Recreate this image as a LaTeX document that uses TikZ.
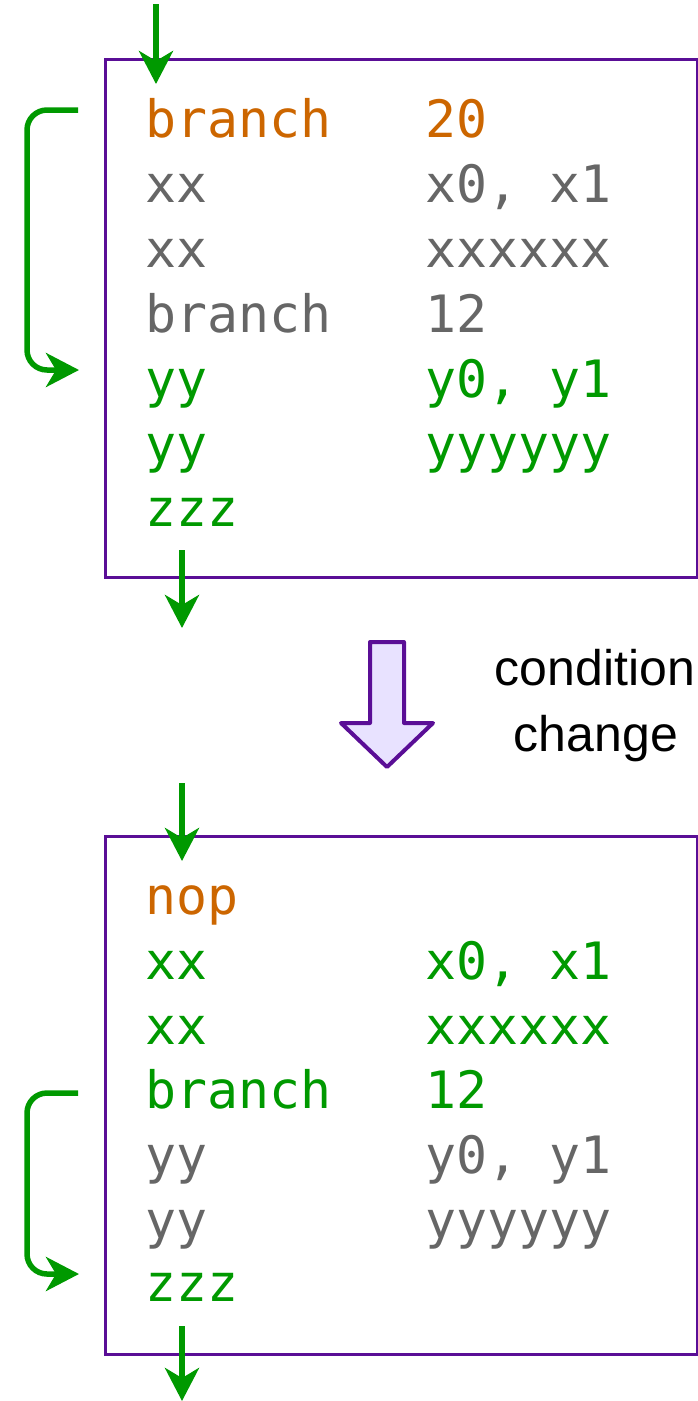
\documentclass[tikz,border=0pt]{standalone}
\usepackage{fontspec}
\newfontfamily\codefont{DejaVu Sans Mono}
\newfontfamily\labelfont{Liberation Sans}
\usetikzlibrary{arrows.meta}
\definecolor{cOrange}{RGB}{204,102,0}
\definecolor{cGray}{RGB}{102,102,102}
\definecolor{cGreen}{RGB}{0,153,0}
\definecolor{cPurple}{RGB}{90,14,150}
\definecolor{cLav}{RGB}{232,226,255}
\tikzset{
  codebox/.style={draw=cPurple, line width=2.6pt, fill=none, inner sep=0pt, anchor=north west, minimum width=592pt, minimum height=518pt},
  code/.style={anchor=base west, inner sep=0pt, font=\codefont\fontsize{51.5}{60}\selectfont},
  flow/.style={draw=cGreen, line width=5.5pt, -{Stealth[length=33pt,width=34pt,inset=10pt]}},
  loop/.style={flow, rounded corners=20pt},
  bigarrow/.style={draw=cPurple, fill=cLav, line width=4pt, line join=round},
  lbl/.style={anchor=base, inner sep=0pt, font=\labelfont\fontsize{50}{60}\selectfont}
}
\begin{document}
\begin{tikzpicture}[x=1pt,y=-1pt]
\useasboundingbox (0,0) rectangle (697,1401);
% ---------- top box ----------
\node[codebox] (boxA) at (104,58) {};
\node[code, text=cOrange] (a1l) at (145,137) {branch};
\node[code, text=cOrange] (a1r) at (425,137) {20};
\node[code, text=cGray] (a2l) at (145,202) {xx};
\node[code, text=cGray] (a2r) at (425,202) {x0, x1};
\node[code, text=cGray] (a3l) at (145,267) {xx};
\node[code, text=cGray] (a3r) at (425,267) {xxxxxx};
\node[code, text=cGray] (a4l) at (145,332) {branch};
\node[code, text=cGray] (a4r) at (425,332) {12};
\node[code, text=cGreen] (a5l) at (145,397) {yy};
\node[code, text=cGreen] (a5r) at (425,397) {y0, y1};
\node[code, text=cGreen] (a6l) at (145,462) {yy};
\node[code, text=cGreen] (a6r) at (425,462) {yyyyyy};
\node[code, text=cGreen] (a7l) at (145,526) {zzz};
\coordinate (aInS) at (156,4);
\coordinate (aInE) at (156,84);
\draw[flow] (aInS) -- (aInE);
\coordinate (aOutS) at (182,550);
\coordinate (aOutE) at (182,628);
\draw[flow] (aOutS) -- (aOutE);
\coordinate (aLoopS) at (78,110);
\coordinate (aLoopE) at (79,370);
\draw[loop] (aLoopS) -- (27,110) -- (27,370) -- (aLoopE);
% ---------- condition change ----------
\draw[bigarrow] (370,642) -- (404,642) -- (404,723) -- (433,723) -- (387,767) -- (341,723) -- (370,723) -- cycle;
\node[lbl] (cond) at (595,685) {condition};
\node[lbl] (chg) at (596,751) {change};
% ---------- bottom box ----------
\node[codebox] (boxB) at (104,835) {};
\node[code, text=cOrange] (b1l) at (145,914) {nop};
\node[code, text=cGreen] (b2l) at (145,979) {xx};
\node[code, text=cGreen] (b2r) at (425,979) {x0, x1};
\node[code, text=cGreen] (b3l) at (145,1044) {xx};
\node[code, text=cGreen] (b3r) at (425,1044) {xxxxxx};
\node[code, text=cGreen] (b4l) at (145,1108) {branch};
\node[code, text=cGreen] (b4r) at (425,1108) {12};
\node[code, text=cGray] (b5l) at (145,1173) {yy};
\node[code, text=cGray] (b5r) at (425,1173) {y0, y1};
\node[code, text=cGray] (b6l) at (145,1238) {yy};
\node[code, text=cGray] (b6r) at (425,1238) {yyyyyy};
\node[code, text=cGreen] (b7l) at (145,1301) {zzz};
\coordinate (bInS) at (182,783);
\coordinate (bInE) at (182,861);
\draw[flow] (bInS) -- (bInE);
\coordinate (bOutS) at (182,1326);
\coordinate (bOutE) at (182,1401);
\draw[flow] (bOutS) -- (bOutE);
\coordinate (bLoopS) at (78,1093);
\coordinate (bLoopE) at (79,1274);
\draw[loop] (bLoopS) -- (27,1093) -- (27,1274) -- (bLoopE);
\end{tikzpicture}
\end{document}
